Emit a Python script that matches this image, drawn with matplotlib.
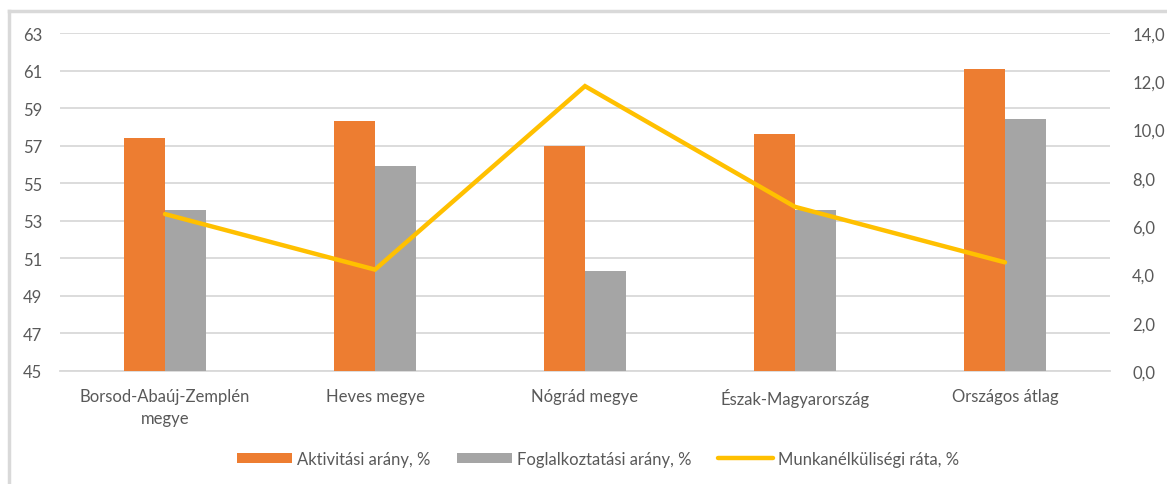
import matplotlib
matplotlib.use("Agg")
import matplotlib.pyplot as plt
import numpy as np
from matplotlib.lines import Line2D

plt.rcParams['font.family'] = ['Lato', 'DejaVu Sans']

teruletek = ["Borsod-Abaúj-Zemplén\nmegye", "Heves megye", "Nógrád megye",
             "Észak-Magyarország", "Országos átlag"]
aktivitasi = [57.4, 58.3, 57.0, 57.6, 61.1]
foglalkoztatasi = [53.6, 55.9, 50.3, 53.6, 58.4]
munkanelkuli = [6.5, 4.2, 11.8, 6.8, 4.5]

bal_tickek = [45, 47, 49, 51, 53, 55, 57, 59, 61, 63]
jobb_tickek = [0, 2, 4, 6, 8, 10, 12, 14]

narancs = "#ed7d31"
szurke = "#a5a5a5"
sarga = "#ffc000"
szoveg = "#595959"
racs = "#d9d9d9"

fig = plt.figure(figsize=(11.67, 4.85), dpi=100)
ax = fig.add_axes([60 / 1167, 1 - 372 / 485, 1050 / 1167, 338 / 485])
ax2 = ax.twinx()

x = np.arange(len(teruletek))
w = 0.195
ax.bar(x - w / 2, np.array(aktivitasi) - 45, w, bottom=45, color=narancs,
       label="Aktivitási arány, %", zorder=3)
ax.bar(x + w / 2, np.array(foglalkoztatasi) - 45, w, bottom=45, color=szurke,
       label="Foglalkoztatási arány, %", zorder=3)
ax2.plot(x, munkanelkuli, color=sarga, lw=3.2, label="Munkanélküliségi ráta, %",
         solid_capstyle="round", solid_joinstyle="miter")

ax.set_xlim(-0.5, len(teruletek) - 0.5)
ax.set_ylim(45, 63)
ax.set_yticks(bal_tickek)
ax2.set_ylim(0, 14)
ax2.set_yticks(jobb_tickek)
ax2.set_yticklabels([f"{v:.1f}".replace(".", ",") for v in jobb_tickek])

ax.set_xticks(x)
ax.set_xticklabels(teruletek, linespacing=1.5)
ax.grid(axis="y", color=racs, lw=1.3, zorder=0)
ax.set_axisbelow(True)

for a in (ax, ax2):
    for s in a.spines.values():
        s.set_visible(False)
    a.tick_params(length=0, colors=szoveg, labelsize=12)
ax.spines["bottom"].set_visible(True)
ax.spines["bottom"].set_color(racs)
ax.spines["bottom"].set_linewidth(1.3)
ax.tick_params(axis="x", pad=12)
ax.tick_params(axis="y", pad=13)
ax2.tick_params(axis="y", pad=16)

# keret a diagram bal és felső szélén
fig.add_artist(Line2D([9 / 1167, 9 / 1167], [0, 1 - 12 / 485], color=racs, lw=2.5))
fig.add_artist(Line2D([9 / 1167, 1], [1 - 12 / 485, 1 - 12 / 485], color=racs, lw=2.5))

h1, l1 = ax.get_legend_handles_labels()
h2, l2 = ax2.get_legend_handles_labels()
fig.legend(h1 + h2, l1 + l2, loc="center", bbox_to_anchor=(598 / 1167, 1 - 460 / 485),
           ncol=3, frameon=False, fontsize=12, labelcolor=szoveg,
           handlelength=3.3, handleheight=0.6, handletextpad=0.3, columnspacing=1.6)

fig.savefig("out.png", dpi=100)
